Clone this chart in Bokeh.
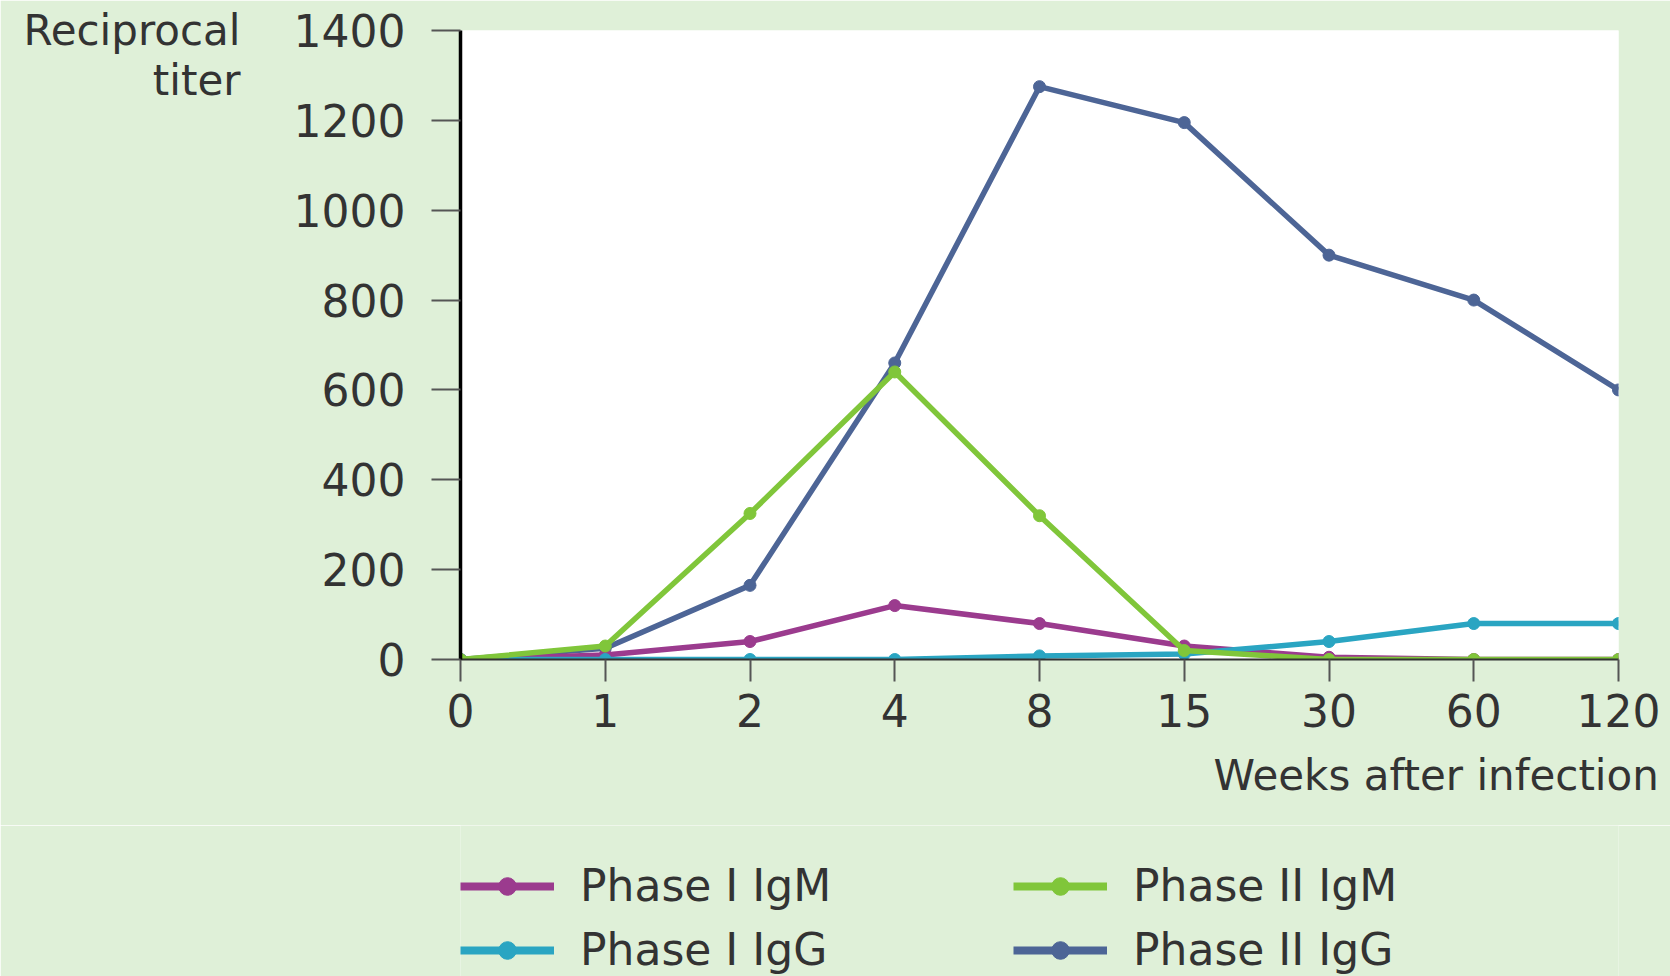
from bokeh.plotting import figure
from bokeh.models import Range1d, FixedTicker, Legend, LegendItem, LinearAxis
from bokeh.layouts import column
from bokeh.embed import file_html
from bokeh.resources import INLINE

# ---- data ----
week_labels = ["0", "1", "2", "4", "8", "15", "30", "60", "120"]
phase1_igm = [0, 10, 40, 120, 80, 30, 5, 0, 0]
phase1_igg = [0, 0, 0, 0, 8, 12, 40, 80, 80]
phase2_igm = [0, 30, 325, 640, 320, 20, 0, 0, 0]
phase2_igg = [0, 25, 165, 660, 1275, 1195, 900, 800, 600]
y_ticks = [0, 200, 400, 600, 800, 1000, 1200, 1400]
y_title = ["Reciprocal", "titer"]
x_title = "Weeks after infection"

BG = "#dff0d8"
TXT = "#333333"
FONT = "DejaVu Sans"

# layout constants (pixels)
W = 1670
H_MAIN = 825
H_LEG = 976 - H_MAIN
B_LEFT, B_RIGHT, B_TOP = 460, 52, 30
B_BOTTOM = 166
FRAME_H = 629
FRAME_W = W - B_LEFT - B_RIGHT
Y_MIN, Y_MAX = 0, 1400
TITLE_LINE_GAP = 50
X_TITLE_CENTER_PX = 1435   # horizontal centre of the x title on the page

xs = list(range(len(week_labels)))
x_max = len(week_labels) - 1

p = figure(width=W, height=H_MAIN, output_backend="svg", toolbar_location=None,
           x_range=Range1d(0, x_max), y_range=Range1d(Y_MIN, Y_MAX),
           min_border_left=B_LEFT, min_border_right=B_RIGHT, min_border_top=B_TOP,
           min_border_bottom=B_BOTTOM)
p.background_fill_color = "white"
p.border_fill_color = BG
p.outline_line_color = None
p.grid.visible = False

# axes
p.xaxis.ticker = FixedTicker(ticks=xs)
p.xaxis.major_label_overrides = {i: t for i, t in enumerate(week_labels)}
p.yaxis.ticker = FixedTicker(ticks=y_ticks)
p.xaxis.minor_tick_line_color = None
p.yaxis.minor_tick_line_color = None
for ax in (p.xaxis, p.yaxis):
    ax.major_tick_in = 0
    ax.major_tick_line_color = "#555555"
    ax.major_tick_line_width = 2
    ax.major_label_text_font = FONT
    ax.major_label_text_font_size = "44px"
    ax.major_label_text_color = TXT
p.yaxis.axis_line_color = "black"
p.yaxis.axis_line_width = 3.5
p.yaxis.major_tick_out = 29
p.yaxis.major_label_standoff = 26
p.xaxis.axis_line_color = "#333333"
p.xaxis.axis_line_width = 2
p.xaxis.major_tick_out = 22
p.xaxis.major_label_standoff = 12

# y title (two lines, top-left) as a second unticked axis on the left
y_title_pos = [Y_MAX, round(Y_MAX - TITLE_LINE_GAP * (Y_MAX - Y_MIN) / FRAME_H)]
title_axis = LinearAxis(ticker=FixedTicker(ticks=y_title_pos),
                        major_label_overrides=dict(zip(y_title_pos, y_title)),
                        axis_line_color=None, major_tick_line_color=None,
                        minor_tick_line_color=None, major_tick_in=0, major_tick_out=0,
                        major_label_standoff=50,
                        major_label_text_font=FONT, major_label_text_font_size="42px",
                        major_label_text_color=TXT)
p.add_layout(title_axis, "left")

# x title (right side, under the tick labels) as a second unticked axis below
x_title_pos = round((X_TITLE_CENTER_PX - B_LEFT) * x_max / FRAME_W, 2)
xtitle_axis = LinearAxis(ticker=FixedTicker(ticks=[x_title_pos]),
                         major_label_overrides={x_title_pos: x_title},
                         axis_line_color=None, major_tick_line_color=None,
                         minor_tick_line_color=None, major_tick_in=0, major_tick_out=0,
                         major_label_standoff=21,
                         major_label_text_font=FONT, major_label_text_font_size="42px",
                         major_label_text_color=TXT)
p.add_layout(xtitle_axis, "below")

series = [
    ("Phase I IgM", phase1_igm, "#9b3b8e"),
    ("Phase I IgG", phase1_igg, "#2aa5c2"),
    ("Phase II IgM", phase2_igm, "#80c63a"),
    ("Phase II IgG", phase2_igg, "#4d6596"),
]
draw_order = [3, 0, 1, 2]
for idx in draw_order:
    name, vals, col = series[idx]
    p.line(xs, vals, line_color=col, line_width=5.5)
    p.scatter(xs, vals, size=12, marker="circle", fill_color=col, line_color=col)

# ---- legend strip below the chart ----
p2 = figure(width=W, height=H_LEG, output_backend="svg", toolbar_location=None,
            x_range=Range1d(0, 1), y_range=Range1d(0, 1),
            x_axis_type=None, y_axis_type=None, min_border=0,
            min_border_left=B_LEFT, min_border_right=B_RIGHT, min_border_top=0,
            min_border_bottom=0)
p2.background_fill_color = BG
p2.border_fill_color = BG
p2.outline_line_color = None
p2.grid.visible = False

nan = float("nan")
items = []
for name, vals, col in series:
    lr = p2.line(x=[nan, nan], y=[nan, nan], line_color=col, line_width=8)
    sr = p2.scatter(x=[nan], y=[nan], size=14, marker="circle",
                    fill_color=col, line_color=col)
    items.append(LegendItem(label=name, renderers=[lr, sr]))

legend = Legend(items=items, location=(0, 1), orientation="vertical", nrows=2,
                glyph_width=94, glyph_height=44, label_height=44, label_width=420,
                label_standoff=26, spacing=13, padding=0, margin=0,
                border_line_color=None, background_fill_alpha=0,
                label_text_font=FONT, label_text_font_size="44px",
                label_text_color=TXT)
p2.add_layout(legend)

layout = column(p, p2, spacing=0)
open("out.html", "w").write(file_html(layout, INLINE))
